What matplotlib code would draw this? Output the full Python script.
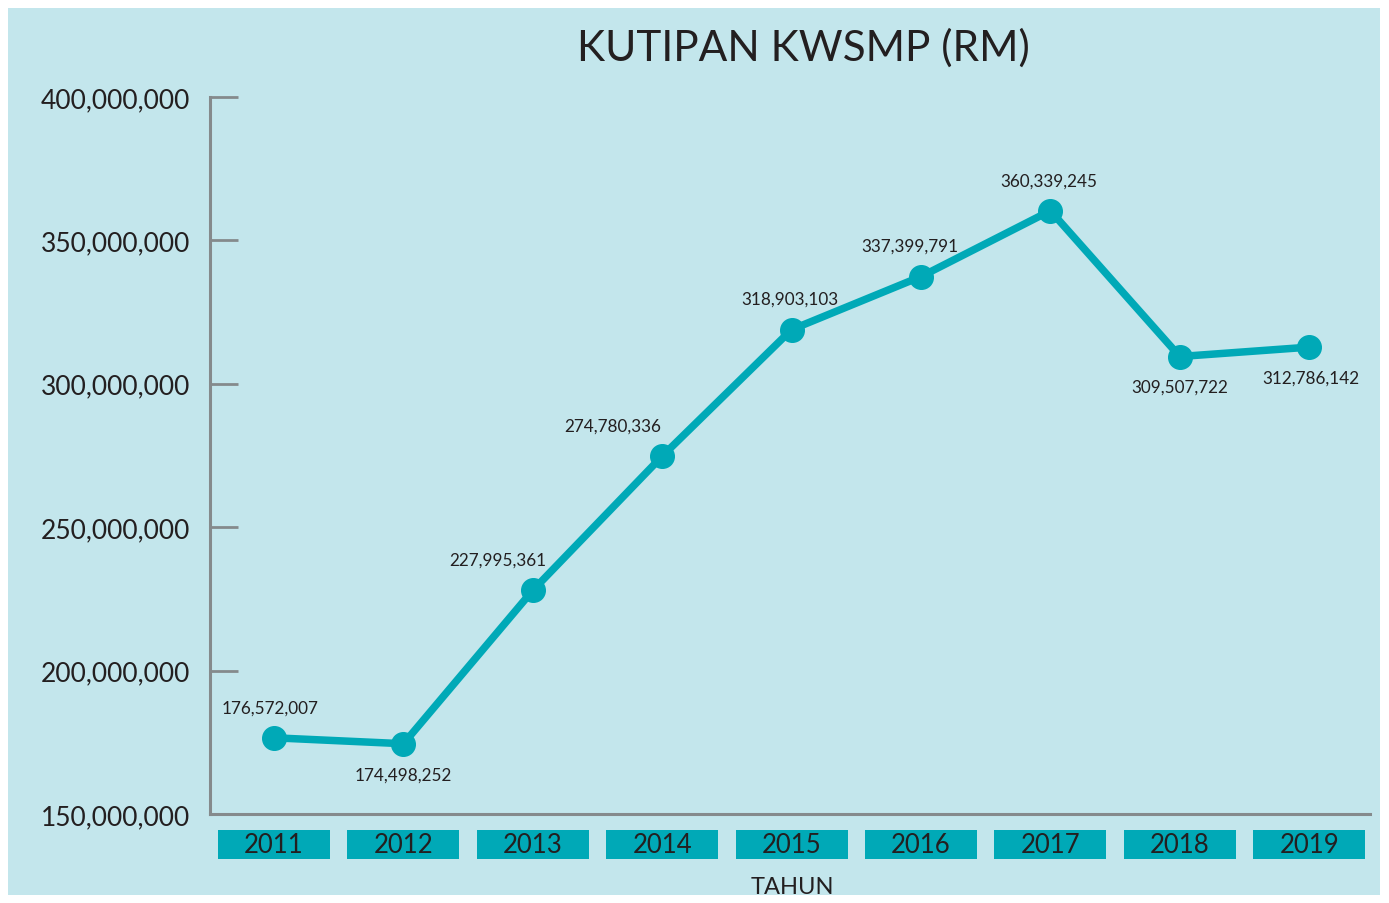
import matplotlib
matplotlib.use("Agg")
import matplotlib.pyplot as plt
from matplotlib.patches import Rectangle
from matplotlib.ticker import FuncFormatter
import matplotlib.transforms as mtransforms

years = ["2011", "2012", "2013", "2014", "2015", "2016", "2017", "2018", "2019"]
values = [176572007, 174498252, 227995361, 274780336, 318903103,
          337399791, 360339245, 309507722, 312786142]
label_pos = ["above", "below", "above", "above", "above", "above", "above", "below", "below"]
yticks = [150000000, 200000000, 250000000, 300000000, 350000000, 400000000]

BG = "#c3e6ec"
TEAL = "#00a9b7"
GREY = "#858a8c"
TXT = "#231f20"
FONT = "Lato"

# horizontal nudges of the value labels (points)
label_dx = [-3, 0, -25, -36, -1, -8, -1, 0, 1]

W, H = 1389, 904
fig = plt.figure(figsize=(W / 100, H / 100), dpi=100)
fig.patch.set_facecolor("white")
fig.patches.append(Rectangle((8 / W, 8 / H), (W - 17) / W, (H - 17) / H,
                             transform=fig.transFigure, facecolor=BG,
                             edgecolor="none", zorder=-10))

ax = fig.add_axes([210 / W, (H - 815) / H, (1370 - 210) / W, (815 - 98) / H])
ax.set_facecolor("none")
ax.set_zorder(5)

x = list(range(len(years)))
ax.plot(x, values, color=TEAL, lw=5.4, marker="o", markersize=17,
        solid_capstyle="round", zorder=3, clip_on=False)

for xi, v, pos, dx in zip(x, values, label_pos, label_dx):
    dy = 22 if pos == "above" else -22
    ax.annotate(f"{v:,}", (xi, v), xytext=(dx, dy), textcoords="offset points",
                ha="center", va="center", fontsize=12.3, color=TXT, family=FONT)

ax.set_xlim(-0.495, 8.47)
ax.set_ylim(150000000, 400000000)
ax.set_yticks(yticks)
ax.yaxis.set_major_formatter(FuncFormatter(lambda v, p: f"{int(v):,}"))
ax.tick_params(axis="y", direction="in", length=20, width=2, color=GREY,
               labelsize=19, labelcolor=TXT, pad=14)
for lab in ax.get_yticklabels():
    lab.set_family(FONT)
ax.set_xticks([])

for s in ["top", "right"]:
    ax.spines[s].set_visible(False)
for s in ["left", "bottom"]:
    ax.spines[s].set_color(GREY)
    ax.spines[s].set_linewidth(2.2)

trans = mtransforms.blended_transform_factory(ax.transData, ax.transAxes)
bh0 = -(860 - 815) / 717
bh1 = -(831 - 815) / 717
for xi, yr in zip(x, years):
    ax.add_patch(Rectangle((xi - 0.433, bh0), 0.866, bh1 - bh0, transform=trans,
                           facecolor=TEAL, edgecolor="none", clip_on=False))
    ax.text(xi, (bh0 + bh1) / 2, yr, transform=trans, ha="center", va="center",
            fontsize=18.5, color=TXT, family=FONT)

fig.text(792 / W, 1 - 888 / H, "TAHUN", ha="center", va="center",
         fontsize=17, color=TXT, family=FONT)
fig.text(803 / W, 1 - 48 / H, "KUTIPAN KWSMP (RM)", ha="center", va="center",
         fontsize=30.5, color=TXT, family=FONT)

fig.savefig("out.png", dpi=100, facecolor="white")
